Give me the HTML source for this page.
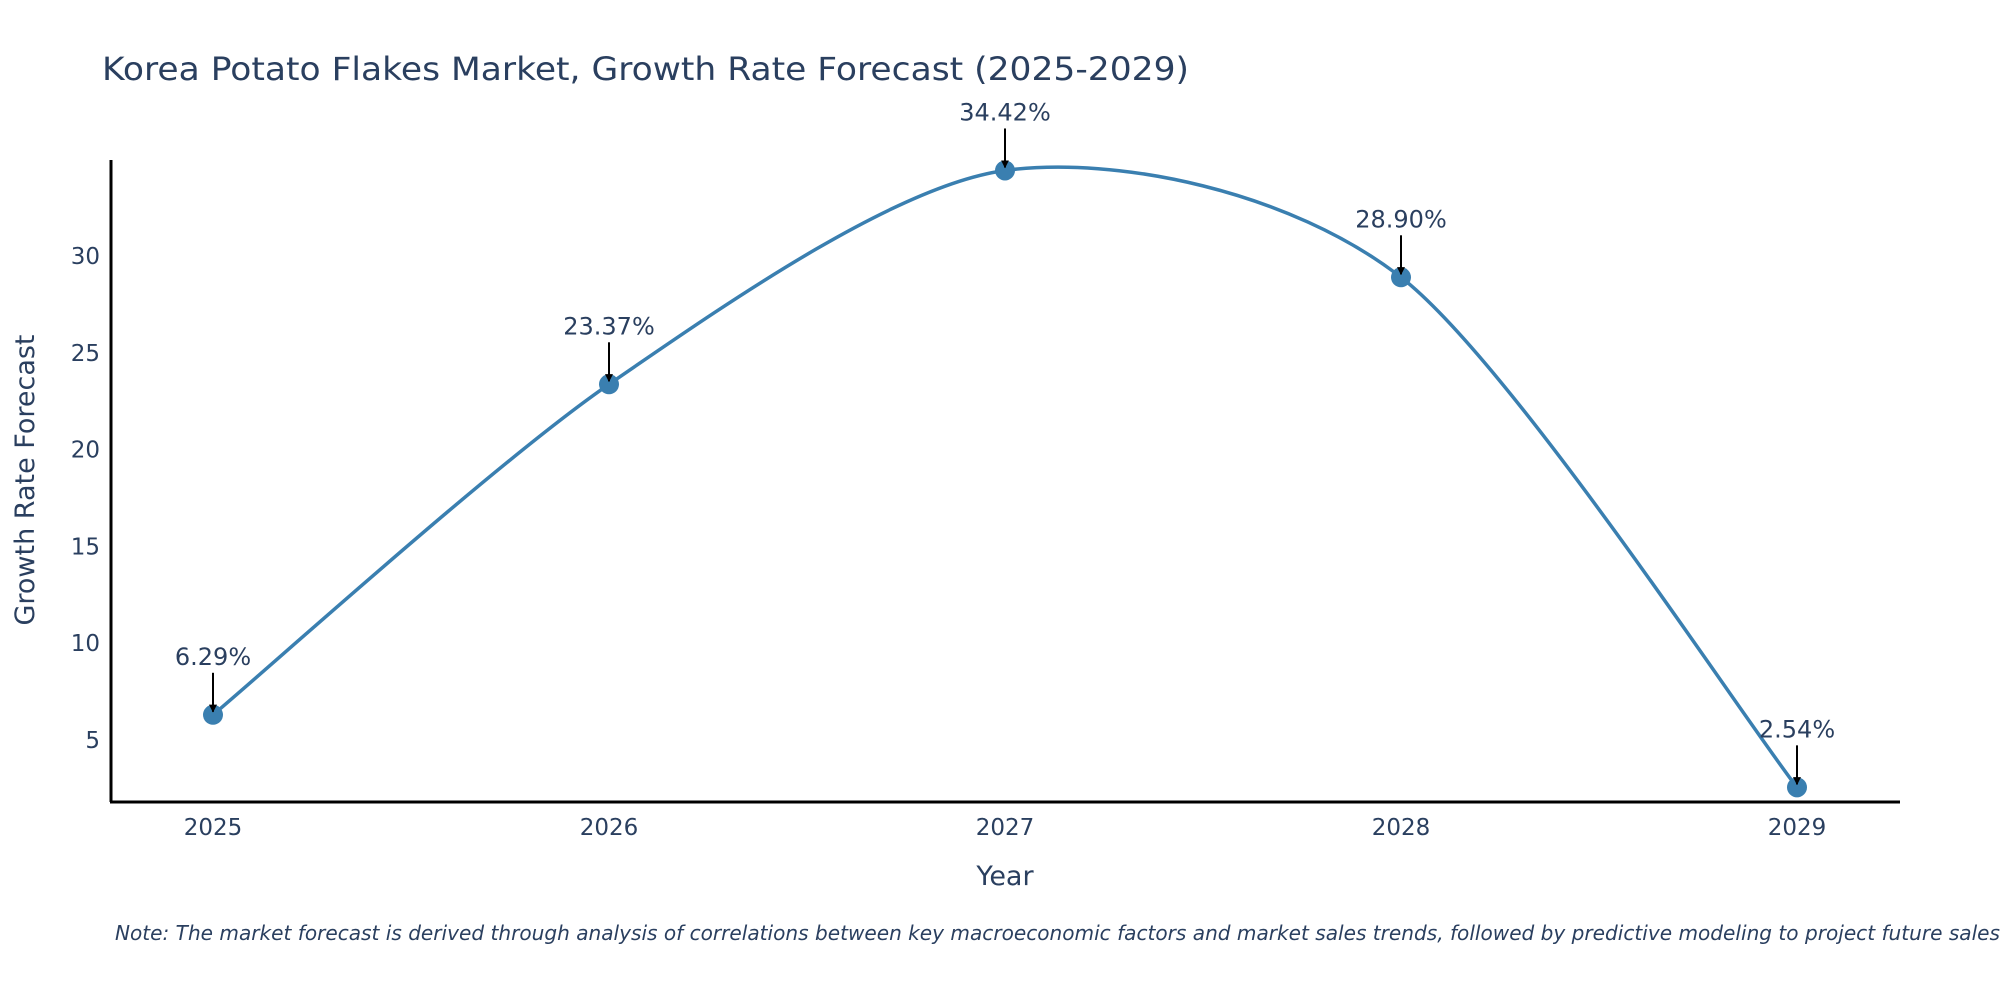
<!DOCTYPE html>
<html><head><meta charset="utf-8"><style>
html,body{margin:0;padding:0;background:#fff;width:2000px;height:1000px;overflow:hidden}
svg text{font-family:"DejaVu Sans","Liberation Sans",sans-serif;fill:#2a3f5f}
</style></head><body>
<svg id="chart" width="2000" height="1000" viewBox="0 0 2000 1000">
<defs><marker id="ah" viewBox="0 0 10 10" refX="9" refY="5" markerWidth="8" markerHeight="8" markerUnits="userSpaceOnUse" orient="auto"><path d="M0,0 L10,5 L0,10 z" fill="#000"/></marker></defs>
<text x="102" y="80" font-size="32" textLength="1087" lengthAdjust="spacingAndGlyphs">Korea Potato Flakes Market, Growth Rate Forecast (2025-2029)</text>
<g id="yticks"></g><g id="xticks"></g>
<line x1="111" y1="160" x2="111" y2="802" stroke="#000" stroke-width="3"/>
<line x1="110" y1="802" x2="1900" y2="802" stroke="#000" stroke-width="3"/>
<text transform="translate(34,480) rotate(-90)" text-anchor="middle" font-size="27">Growth Rate Forecast</text>
<text x="1005" y="885" text-anchor="middle" font-size="27">Year</text>
<g id="series"></g>
<text x="115" y="940" font-size="20" font-style="italic" textLength="1885" lengthAdjust="spacingAndGlyphs">Note: The market forecast is derived through analysis of correlations between key macroeconomic factors and market sales trends, followed by predictive modeling to project future sales</text>
</svg>
<script>
const years = [2025, 2026, 2027, 2028, 2029];
const growth = [6.29, 23.37, 34.42, 28.90, 2.54];
const yTicks = [5, 10, 15, 20, 25, 30];
const NS = 'http://www.w3.org/2000/svg';
const xs = v => 213 + (v - 2025) * 396;
const ys = v => 643 - (v - 10) * 19.35;
function mk(tag, attrs, parent) { const e = document.createElementNS(NS, tag); for (const k in attrs) e.setAttribute(k, attrs[k]); parent.appendChild(e); return e; }
const yt = document.getElementById('yticks');
yTicks.forEach(t => {
  const e = mk('text', {x: 100, y: ys(t) + 8, 'text-anchor': 'end', 'font-size': 23}, yt);
  
  
  e.textContent = t;
});
const xt = document.getElementById('xticks');
years.forEach(y => {
  const e = mk('text', {x: xs(y), y: 835, 'text-anchor': 'middle', 'font-size': 23}, xt);
  
  
  e.textContent = y;
});
const g = document.getElementById('series');
const P = years.map((y, i) => [xs(y), ys(growth[i])]);
let d = 'M' + P[0][0] + ',' + P[0][1];
for (let i = 0; i < P.length - 1; i++) {
  const p0 = P[Math.max(0, i - 1)], p1 = P[i], p2 = P[i + 1], p3 = P[Math.min(P.length - 1, i + 2)];
  const t = 0.14;
  const c1 = [p1[0] + (p2[0] - p0[0]) * t, p1[1] + (p2[1] - p0[1]) * t];
  const c2 = [p2[0] - (p3[0] - p1[0]) * t, p2[1] - (p3[1] - p1[1]) * t];
  d += ' C' + c1 + ' ' + c2 + ' ' + p2;
}
const line = mk('path', {d: d, fill: 'none', stroke: '#3a7fb0', 'stroke-width': 3.5}, g);


P.forEach((p, i) => {
  const c = mk('circle', {cx: p[0], cy: p[1], r: 10, fill: '#3a7fb0'}, g);
  
  
  const a = mk('line', {x1: p[0], y1: p[1] - 42, x2: p[0], y2: p[1] - 3, stroke: '#000', 'stroke-width': 2, 'marker-end': 'url(#ah)'}, g);
  
  
  const tx = mk('text', {x: p[0], y: p[1] - 50, 'text-anchor': 'middle', 'font-size': 24}, g);
  
  
  tx.textContent = growth[i].toFixed(2) + '%';
});
</script>
</body></html>
